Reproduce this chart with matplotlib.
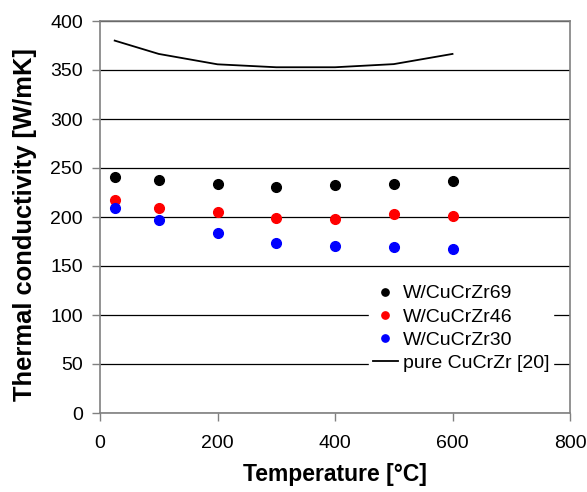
import matplotlib
matplotlib.use("Agg")
import matplotlib.pyplot as plt

plt.rcParams['font.family'] = ['Liberation Sans', 'DejaVu Sans']

temps = [25, 100, 200, 300, 400, 500, 600]
w69 = [240.5, 238, 233.4, 231, 232.8, 233.4, 236.4]
w46 = [217.6, 208.8, 205, 199.4, 198.4, 202.7, 201]
w30 = [208.8, 197, 183.2, 173.7, 170.6, 169.3, 167]
pure = [380, 366.4, 355.8, 352.8, 352.8, 356, 366.4]

fig = plt.figure(figsize=(5.87, 4.92), dpi=100)
ax = fig.add_axes([100/587, 1-413/492, 470/587, 392/492])

ax.set_axisbelow(True)
ax.yaxis.grid(True, color='black', linewidth=0.9)
ax.plot(temps, w69, 'o', color='black', markersize=7, label='W/CuCrZr69', zorder=3)
ax.plot(temps, w46, 'o', color='#ff0000', markersize=7, label='W/CuCrZr46', zorder=3)
ax.plot(temps, w30, 'o', color='#0000ff', markersize=7, label='W/CuCrZr30', zorder=3)
ax.plot(temps, pure, '-', color='black', linewidth=1.3, label='pure CuCrZr [20]', zorder=3)

ax.set_xlim(0, 800)
ax.set_ylim(0, 400)
ax.set_xticks(range(0, 801, 200))
ax.set_yticks(range(0, 401, 50))
ax.tick_params(labelsize=14, direction='out', length=5.8, color='#808080', width=1)
ax.tick_params(axis='x', pad=10)
ax.tick_params(axis='y', pad=6.5)
for s in ax.spines.values():
    s.set_color('#808080')
    s.set_linewidth(1.2)

ax.set_xlabel('Temperature [°C]', fontsize=16.5, fontweight='bold')
ax.set_ylabel('Thermal conductivity [W/mK]', fontsize=18.4, fontweight='bold')
ax.xaxis.set_label_coords(0.5, -0.1276)
ax.yaxis.set_label_coords(-0.135, 0.48)

leg = ax.legend(loc='center left', bbox_to_anchor=(0.572, 0.2155), fontsize=14,
                frameon=True, framealpha=1, edgecolor='white', fancybox=False,
                handlelength=1.3, handletextpad=0.26, labelspacing=0.29, borderpad=0.2,
                borderaxespad=0, markerscale=0.75)

fig.savefig('out.png', dpi=100)
